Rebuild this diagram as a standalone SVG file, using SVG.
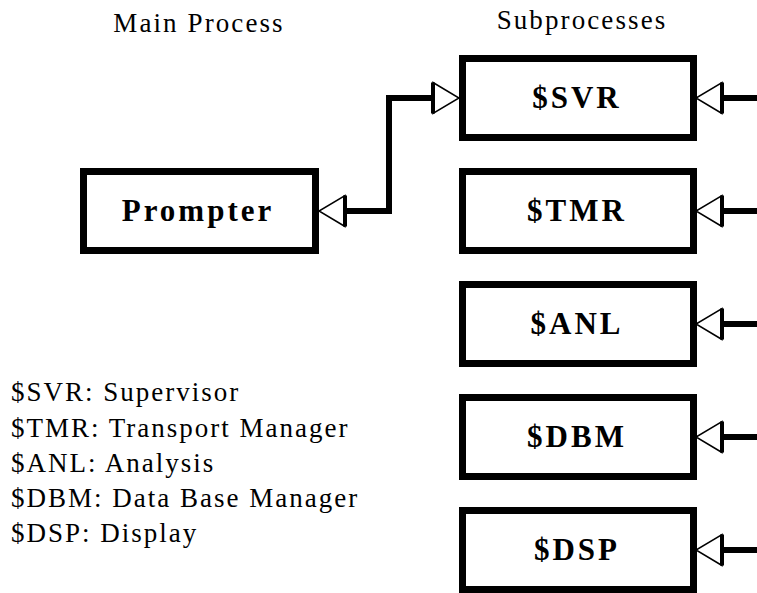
<svg xmlns="http://www.w3.org/2000/svg" width="757" height="593" viewBox="0 0 757 593">
  <style>
    .box { fill: #fff; stroke: #000; stroke-width: 7; }
    .label { font-family: "Liberation Serif", "Times New Roman", serif; font-weight: bold; font-size: 31px; letter-spacing: 3px; text-anchor: middle; fill: #000; }
    .head { font-family: "Liberation Serif", "Times New Roman", serif; font-size: 27px; letter-spacing: 2.1px; text-anchor: middle; fill: #000; }
    .legend { font-family: "Liberation Serif", "Times New Roman", serif; font-size: 27px; letter-spacing: 2px; fill: #000; }
    .wire { fill: none; stroke: #000; stroke-width: 6; stroke-linejoin: miter; }
  </style>
  <defs>
    <!-- open triangle head: thin sides, heavy base -->
    <marker id="head" viewBox="-3 -18 32 36" markerWidth="32" markerHeight="36" refX="0" refY="0" markerUnits="userSpaceOnUse" orient="auto-start-reverse" overflow="visible">
      <polygon points="0,-15.5 26,0 0,15.5" fill="#fff" stroke="#000" stroke-width="1.5"/>
      <line x1="0" y1="-15.5" x2="0" y2="15.5" stroke="#000" stroke-width="4"/>
    </marker>
  </defs>

  <!-- column headings -->
  <text class="head" x="199" y="32">Main Process</text>
  <text class="head" x="582" y="29">Subprocesses</text>

  <!-- main process -->
  <g id="prompter">
    <rect class="box" x="83.5" y="171.5" width="232" height="79"/>
    <text class="label" x="198" y="221">Prompter</text>
  </g>

  <!-- subprocesses -->
  <g id="svr">
    <rect class="box" x="462.5" y="58.5" width="231" height="79"/>
    <text class="label" x="577" y="108">$SVR</text>
  </g>
  <g id="tmr">
    <rect class="box" x="462.5" y="171.5" width="231" height="79"/>
    <text class="label" x="577" y="221">$TMR</text>
  </g>
  <g id="anl">
    <rect class="box" x="462.5" y="284.5" width="231" height="79"/>
    <text class="label" x="577" y="334">$ANL</text>
  </g>
  <g id="dbm">
    <rect class="box" x="462.5" y="397.5" width="231" height="79"/>
    <text class="label" x="577" y="447">$DBM</text>
  </g>
  <g id="dsp">
    <rect class="box" x="462.5" y="510.5" width="231" height="79"/>
    <text class="label" x="577" y="560">$DSP</text>
  </g>

  <!-- connectors -->
  <g id="connectors">
    <path class="wire" d="M433,98 H389 V211 H345" marker-start="url(#head)" marker-end="url(#head)"/>
    <path class="wire" d="M760,98 H722" marker-end="url(#head)"/>
    <path class="wire" d="M760,211 H722" marker-end="url(#head)"/>
    <path class="wire" d="M760,324 H722" marker-end="url(#head)"/>
    <path class="wire" d="M760,437 H722" marker-end="url(#head)"/>
    <path class="wire" d="M760,550 H722" marker-end="url(#head)"/>
  </g>

  <!-- legend -->
  <g id="legend">
    <text class="legend" x="11" y="401">$SVR: Supervisor</text>
    <text class="legend" x="11" y="436.5">$TMR: Transport Manager</text>
    <text class="legend" x="11" y="472">$ANL: Analysis</text>
    <text class="legend" x="11" y="507">$DBM: Data Base Manager</text>
    <text class="legend" x="11" y="542">$DSP: Display</text>
  </g>
</svg>
